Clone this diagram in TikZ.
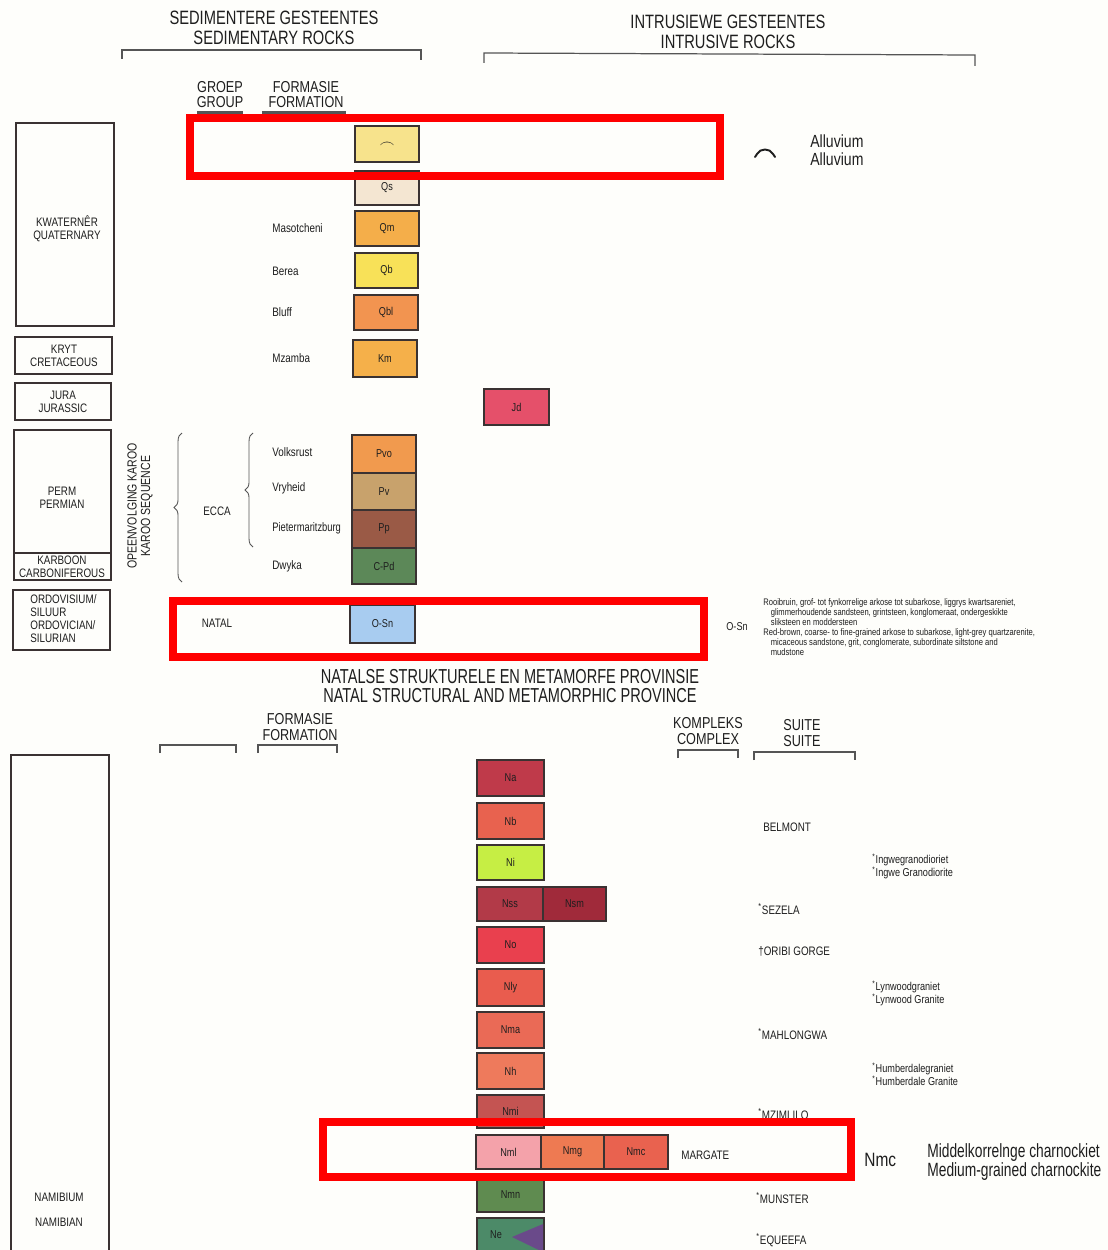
\documentclass[tikz,border=0pt]{standalone}
\usepackage{fontspec}
\setmainfont[FakeStretch=0.8]{Liberation Sans}
\newfontfamily\condA[FakeStretch=0.76]{Liberation Sans}
\newfontfamily\condB[FakeStretch=0.72]{Liberation Sans}
\usetikzlibrary{decorations.pathreplacing}
\definecolor{bgc}{HTML}{FEFEFB}
\definecolor{ink}{HTML}{1E1E1E}
\definecolor{edge}{HTML}{3A3232}
\definecolor{brk}{HTML}{555555}
\definecolor{hl}{HTML}{FF0000}
\newcommand\fz[2]{\fontsize{#1}{#2}\selectfont}
\begin{document}
\begin{tikzpicture}[x=0.02cm,y=-0.02cm,
  every node/.style={inner sep=0pt, text=ink},
  ub/.style 2 args={draw=edge, line width=0.9pt, minimum width=#1*0.02cm, minimum height=#2*0.02cm, font=\fz{6.5}{7}},
  hdr/.style={align=center, font=\condA\fz{11}{11.4}},
  colh/.style={align=center, font=\fz{9}{8.6}},
  era/.style={align=center, font=\fz{7}{7.5}},
  fm/.style={anchor=west, font=\fz{7}{8}},
  suite/.style={anchor=west, font=\fz{7}{8}},
  rdesc/.style={anchor=west, align=left, font=\fz{6.5}{7.4}},
  desc/.style={anchor=north west, align=left, font=\fz{5.4}{5.7}},
  eraBox/.style={draw=edge, line width=0.9pt},
  bracket/.style={draw=brk, line width=0.7pt},
  hbox/.style={draw=hl, line width=8*0.02cm}
]
\clip (0,0) rectangle (1108,1250);
\fill[bgc] (0,0) rectangle (1108,1250);

% ---------- headers ----------
\node[hdr] (hsed) at (274,28) {SEDIMENTERE GESTEENTES\\SEDIMENTARY ROCKS};
\node[hdr] (hint) at (728,32) {INTRUSIEWE GESTEENTES\\INTRUSIVE ROCKS};
\draw[bracket] (122,59) -- (122,50) -- (421,50) -- (421,60);
\draw[bracket] (484,63) -- (484,53) -- (975,55) -- (975,66);
\node[colh] (hgroup) at (220,95) {GROEP\\GROUP};
\node[colh] (hform) at (306,95) {FORMASIE\\FORMATION};
\draw[brk, line width=0.06cm] (197,113) -- (243,113);
\draw[brk, line width=0.06cm] (262,113) -- (346,113);

% ---------- era boxes (top) ----------
\draw[eraBox] (16,123) rectangle (114,326);
\node[era] (quat) at (67,229) {KWATERNÊR\\QUATERNARY};
\draw[eraBox] (15,337) rectangle (112,374);
\node[era] (cret) at (64,355.5) {KRYT\\CRETACEOUS};
\draw[eraBox] (15,383) rectangle (111,420);
\node[era] (jur) at (63,401.5) {JURA\\JURASSIC};
\draw[eraBox] (14,430) rectangle (111,580);
\draw[eraBox] (14,553) -- (111,553);
\node[era] (perm) at (62,498) {PERM\\PERMIAN};
\node[era] (carb) at (62,566.5) {KARBOON\\CARBONIFEROUS};
\draw[eraBox] (13,590) rectangle (110,650);
\node[era, align=left, anchor=west, font=\fz{7}{7.4}] (ordo) at (30,619) {ORDOVISIUM/\\SILUUR\\ORDOVICIAN/\\SILURIAN};

% ---------- sedimentary units ----------
\node[ub={64}{36}, fill={rgb,255:red,247;green,227;blue,140}] (alv) at (387,144) {};
\node[font=\fz{8}{8}] (alvsym) at (387,145) {$\frown$};
\node[ub={64}{34}, fill={rgb,255:red,244;green,230;blue,210}] (qs) at (387,188) {Qs};
\node[ub={64}{35}, fill={rgb,255:red,244;green,174;blue,74}] (qm) at (387,228.5) {Qm};
\node[ub={63}{35}, fill={rgb,255:red,248;green,225;blue,88}] (qb) at (386.5,270.5) {Qb};
\node[ub={64}{35}, fill={rgb,255:red,242;green,148;blue,80}] (qbl) at (386,312.5) {Qbl};
\node[ub={64}{37}, fill={rgb,255:red,245;green,176;blue,74}] (km) at (385,358.5) {Km};
\node[ub={65}{36}, fill={rgb,255:red,229;green,80;blue,106}] (jd) at (516.5,407) {Jd};
\node[ub={64}{38}, fill={rgb,255:red,241;green,154;blue,78}] (pvo) at (384,454) {Pvo};
\node[ub={64}{37}, fill={rgb,255:red,200;green,162;blue,108}] (pv) at (384,491.5) {Pv};
\node[ub={64}{38}, fill={rgb,255:red,154;green,90;blue,70}] (pp) at (384,529) {Pp};
\node[ub={64}{36}, fill={rgb,255:red,92;green,136;blue,88}] (cpd) at (384,566) {C-Pd};
\node[ub={65}{38}, fill={rgb,255:red,168;green,204;blue,240}] (osn) at (382.5,624) {O-Sn};

% formation names
\node[fm] (fmas) at (272,228) {Masotcheni};
\node[fm] (fber) at (272,271) {Berea};
\node[fm] (fblu) at (272,312) {Bluff};
\node[fm] (fmza) at (272,358) {Mzamba};
\node[fm] (fvol) at (272,452) {Volksrust};
\node[fm] (fvry) at (272,488) {Vryheid};
\node[fm, font=\condA\fz{7}{8}] (fpie) at (272,528) {Pietermaritzburg};
\node[fm] (fdwy) at (272,566) {Dwyka};

% braces and group labels
\draw[brk, line width=0.5pt, decorate, decoration={brace, amplitude=4.5pt}] (182,582) -- (182,433);
\draw[brk, line width=0.5pt, decorate, decoration={brace, amplitude=4.5pt}] (253,547) -- (253,433);
\node[fm, anchor=center] (ecca) at (217,511) {ECCA};
\node[fm, anchor=center] (natal) at (217,623) {NATAL};
\node[era, rotate=90, font=\fz{7.5}{7.6}] (karoo) at (140,506) {OPEENVOLGING KAROO\\KAROO SEQUENCE};

% legends (top)
\draw[ink, line width=1.1pt, line cap=round] (755,157) -- (757,154) .. controls (760,148) and (770,148) .. (773,154) -- (775,157);
\node[anchor=west, align=left, font=\fz{10}{10.2}] (alvtxt) at (810,150) {Alluvium\\Alluvium};
\node[anchor=west, font=\fz{6.5}{7}] (osnkey) at (726,627) {O-Sn};
\node[desc] (osndesc) at (763,598) {Rooibruin, grof- tot fynkorrelige arkose tot subarkose, liggrys kwartsareniet,\\
\hspace*{0.15cm}glimmerhoudende sandsteen, grintsteen, konglomeraat, ondergeskikte\\
\hspace*{0.15cm}sliksteen en moddersteen\\
Red-brown, coarse- to fine-grained arkose to subarkose, light-grey quartzarenite,\\
\hspace*{0.15cm}micaceous sandstone, grit, conglomerate, subordinate siltstone and\\
\hspace*{0.15cm}mudstone};

% ---------- Natal province ----------
\node[align=center, font=\condB\fz{11.5}{10.3}] (hnat) at (510,686) {NATALSE STRUKTURELE EN METAMORFE PROVINSIE\\NATAL STRUCTURAL AND METAMORPHIC PROVINCE};
\node[colh] (hform2) at (300,727) {FORMASIE\\FORMATION};
\node[colh] (hkomp) at (708,731) {KOMPLEKS\\COMPLEX};
\node[colh] (hsuite) at (802,733) {SUITE\\SUITE};
\draw[bracket] (160,753) -- (160,745) -- (236,745) -- (236,753);
\draw[bracket] (258,753) -- (258,745) -- (337,745) -- (337,753);
\draw[bracket] (678,758) -- (678,750) -- (738,750) -- (738,758);
\draw[bracket] (754,760) -- (754,752) -- (855,752) -- (855,760);

\draw[eraBox] (11,755) rectangle (109,1262);
\node[era] (namib1) at (59,1197) {NAMIBIUM};
\node[era] (namib2) at (59,1222) {NAMIBIAN};

\node[ub={67}{36}, fill={rgb,255:red,191;green,58;blue,74}] (na) at (510.5,778) {Na};
\node[ub={67}{36}, fill={rgb,255:red,232;green,98;blue,79}] (nb) at (510.5,821) {Nb};
\node[ub={67}{35}, fill={rgb,255:red,198;green,238;blue,68}] (ni) at (510.5,862.5) {Ni};
\node[ub={66}{34}, fill={rgb,255:red,178;green,58;blue,72}] (nss) at (510,904) {Nss};
\node[ub={63}{34}, fill={rgb,255:red,160;green,42;blue,58}] (nsm) at (574.5,904) {Nsm};
\node[ub={67}{36}, fill={rgb,255:red,233;green,64;blue,78}] (no) at (510.5,945) {No};
\node[ub={67}{37}, fill={rgb,255:red,233;green,92;blue,78}] (nly) at (510.5,987.5) {Nly};
\node[ub={67}{36}, fill={rgb,255:red,234;green,106;blue,86}] (nma) at (510.5,1030) {Nma};
\node[ub={67}{36}, fill={rgb,255:red,238;green,122;blue,92}] (nh) at (510.5,1071) {Nh};
\node[ub={67}{33}, fill={rgb,255:red,196;green,84;blue,82}] (nmi) at (510.5,1111.5) {Nmi};
\node[ub={65}{34}, fill={rgb,255:red,244;green,162;blue,170}] (nml) at (508.5,1152) {Nml};
\node[ub={63}{34}, fill={rgb,255:red,238;green,122;blue,82}] (nmg) at (572.5,1152) {Nmg};
\node[ub={64}{34}, fill={rgb,255:red,233;green,98;blue,79}] (nmc) at (636,1152) {Nmc};
\node[ub={67}{34}, fill={rgb,255:red,95;green,139;blue,80}] (nmn) at (510.5,1195) {Nmn};
\node[ub={67}{44}, fill={rgb,255:red,76;green,138;blue,104}] (ne) at (510.5,1240) {};
\fill[fill={rgb,255:red,106;green,74;blue,138}] (543,1224) -- (512,1237) -- (543,1252) -- cycle;
\node[font=\fz{6.5}{7}] (nelab) at (496,1235) {Ne};

% suites
\node[suite] (sbel) at (763,827) {BELMONT};
\node[suite] (ssez) at (758,909) {\textsuperscript{*}SEZELA};
\node[suite] (sori) at (758,951) {†ORIBI GORGE};
\node[suite] (smah) at (758,1034) {\textsuperscript{*}MAHLONGWA};
\node[suite] (smzi) at (758,1114) {\textsuperscript{*}MZIMLILO};
\node[suite] (smar) at (681,1155) {MARGATE};
\node[suite] (smun) at (756,1198) {\textsuperscript{*}MUNSTER};
\node[suite] (sequ) at (756,1240) {\textsuperscript{*}EQUEEFA};

\node[rdesc] (ringwe) at (872,866.5) {\textsuperscript{*}Ingwegranodioriet\\\textsuperscript{*}Ingwe Granodiorite};
\node[rdesc] (rlyn) at (872,993.5) {\textsuperscript{*}Lynwoodgraniet\\\textsuperscript{*}Lynwood Granite};
\node[rdesc] (rhum) at (872,1074.5) {\textsuperscript{*}Humberdalegraniet\\\textsuperscript{*}Humberdale Granite};

\node[anchor=west, font=\fz{11}{11}] (nmckey) at (864,1160) {Nmc};
\node[anchor=west, align=left, font=\condB\fz{10.9}{10.8}] (nmctxt) at (927,1162) {Middelkorrelnge charnockiet\\Medium-grained charnockite};

% ---------- red highlight frames ----------
\draw[hbox] (190,118.5) rectangle (720,176);
\draw[hbox] (172.5,601) rectangle (704,657);
\draw[hbox] (323,1122) rectangle (851,1177);
\end{tikzpicture}
\end{document}
